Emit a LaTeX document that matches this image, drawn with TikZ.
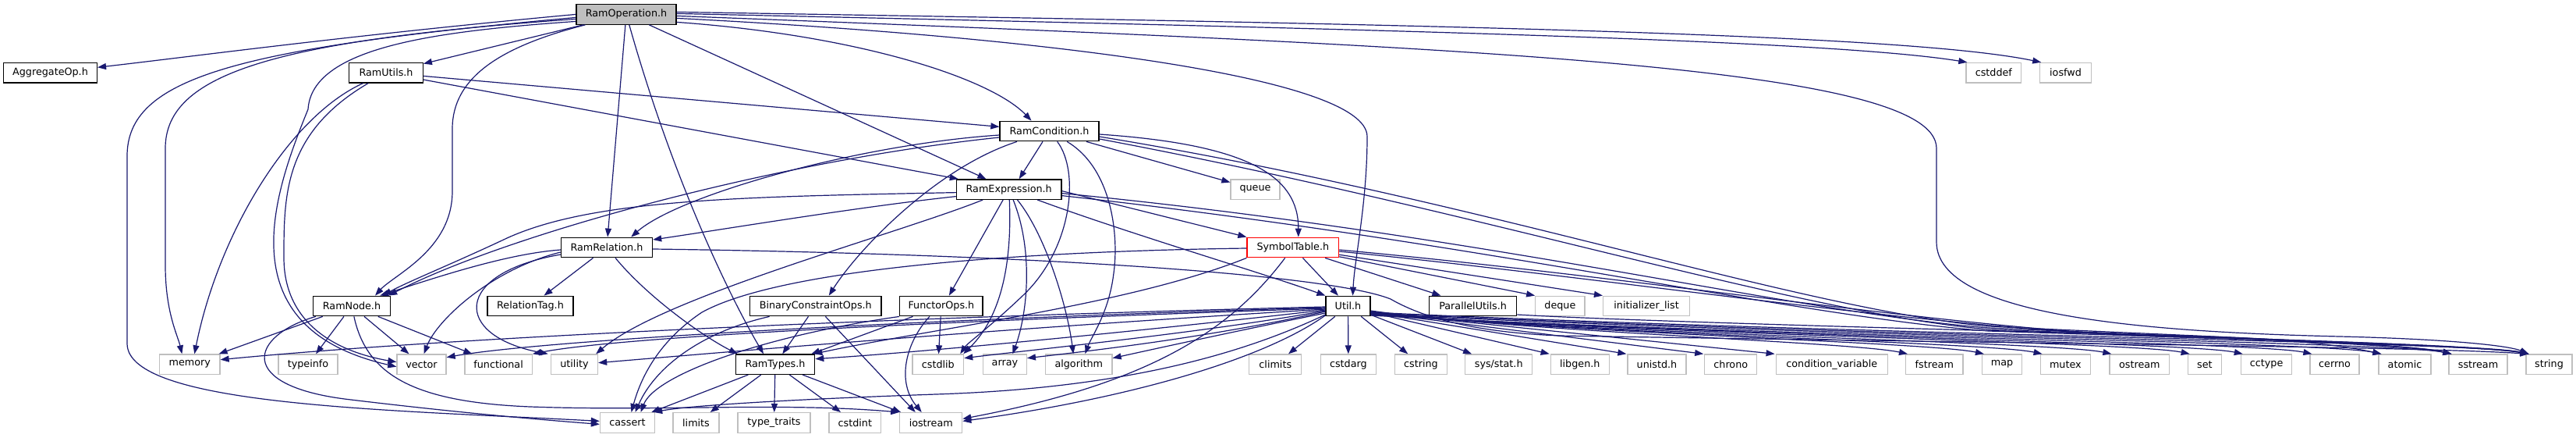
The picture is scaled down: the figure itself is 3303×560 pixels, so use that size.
\documentclass[tikz,border=0pt]{standalone}
\usepackage{fontspec}
\setmainfont{DejaVu Sans}
\usetikzlibrary{arrows.meta}
\definecolor{edgec}{HTML}{191970}
\definecolor{gline}{HTML}{BFBFBF}
\newcommand{\nodefont}{\fontsize{12.75pt}{15pt}\selectfont}
\tikzset{
  nb/.style={draw=black, line width=1.3pt, fill=white, minimum height=25.5pt, inner sep=0pt, font=\nodefont},
  ng/.style={nb, draw=gline},
  e/.style={draw=edgec, line width=1.2pt, -{Triangle[length=11pt,width=8pt]}},
}
\begin{document}
\begin{tikzpicture}[x=1pt,y=-1pt]
\useasboundingbox[fill=white] (0,0) rectangle (3303,560);
% row 0
\node[nb, fill=gline, minimum width=128pt] (ro) at (803,18.4) {RamOperation.h};
% row 1
\node[nb, minimum width=119.8pt] (agg) at (64.5,93.2) {AggregateOp.h};
\node[nb, minimum width=94.5pt] (ru) at (495.05,93.2) {RamUtils.h};
\node[ng, minimum width=70.7pt] (cdf) at (2556.35,93.2) {cstddef};
\node[ng, minimum width=65.5pt] (iof) at (2648.55,93.2) {iosfwd};
% row 2
\node[nb, minimum width=127pt] (rc) at (1345.5,168) {RamCondition.h};
% row 3
\node[nb, minimum width=134.6pt] (re) at (1293.7,242.6) {RamExpression.h};
\node[ng, minimum width=63pt] (que) at (1609.5,242.6) {queue};
% row 4
\node[nb, minimum width=117.1pt] (rr) at (778,317) {RamRelation.h};
\node[nb, draw=red, minimum width=117.6pt] (st) at (1657.8,317) {SymbolTable.h};
% row 5
\node[nb, minimum width=99.1pt] (rn) at (451,392) {RamNode.h};
\node[nb, minimum width=110pt] (rtag) at (680,392) {RelationTag.h};
\node[nb, minimum width=168.4pt] (bc) at (1045.8,392) {BinaryConstraintOps.h};
\node[nb, minimum width=106.2pt] (fo) at (1206.9,392) {FunctorOps.h};
\node[nb, minimum width=57pt] (nut) at (1728.5,392) {Util.h};
\node[nb, minimum width=112.2pt] (pu) at (1888.6,392) {ParallelUtils.h};
\node[ng, minimum width=63.2pt] (deq) at (2000.4,392) {deque};
\node[ng, minimum width=111pt] (ini) at (2111.1,392) {initializer\_list};
% row 6
\node[ng, minimum width=77.3pt] (nmem) at (243.35,466.7) {memory};
\node[ng, minimum width=76pt] (ntinfo) at (395,466.7) {typeinfo};
\node[ng, minimum width=63pt] (nvec) at (540.5,466.7) {vector};
\node[ng, minimum width=86.4pt] (nfunc) at (639.1,466.7) {functional};
\node[ng, minimum width=60.1pt] (nuti) at (736.45,466.7) {utility};
\node[nb, minimum width=101.4pt] (nrt) at (994,466.7) {RamTypes.h};
\node[ng, minimum width=65.6pt] (ncsl) at (1202.8,466.7) {cstdlib};
\node[ng, minimum width=55.8pt] (narr) at (1288.4,466.7) {array};
\node[ng, minimum width=85.5pt] (nalg) at (1383.25,466.7) {algorithm};
\node[ng, minimum width=67pt] (nclim) at (1635.3,466.7) {climits};
\node[ng, minimum width=71.2pt] (ncdarg) at (1728.9,466.7) {cstdarg};
\node[ng, minimum width=66.9pt] (ncstr) at (1822,466.7) {cstring};
\node[ng, minimum width=85.8pt] (nsstat) at (1921.7,466.7) {sys/stat.h};
\node[ng, minimum width=75pt] (nlgen) at (2025.8,466.7) {libgen.h};
\node[ng, minimum width=75pt] (nunis) at (2124.5,466.7) {unistd.h};
\node[ng, minimum width=66.9pt] (nchro) at (2219.25,466.7) {chrono};
\node[ng, minimum width=143.1pt] (ncvar) at (2348.75,466.7) {condition\_variable};
\node[ng, minimum width=73.4pt] (nfst) at (2480.3,466.7) {fstream};
\node[ng, minimum width=50.9pt] (nmap) at (2567,466.7) {map};
\node[ng, minimum width=64.3pt] (nmtx) at (2648.35,466.7) {mutex};
\node[ng, minimum width=76.6pt] (nost) at (2743.3,466.7) {ostream};
\node[ng, minimum width=43.2pt] (nset) at (2826.9,466.7) {set};
\node[ng, minimum width=65.4pt] (ncct) at (2906.1,466.7) {cctype};
\node[ng, minimum width=63pt] (nerr) at (2993.5,466.7) {cerrno};
\node[ng, minimum width=67pt] (natm) at (3083.5,466.7) {atomic};
\node[ng, minimum width=75pt] (nsst) at (3177.5,466.7) {sstream};
\node[ng, minimum width=59pt] (nstr) at (3268.5,466.7) {string};
% row 7
\node[ng, minimum width=70.1pt] (ncas) at (804.5,541.4) {cassert};
\node[ng, minimum width=59pt] (nlim) at (892.5,541.4) {limits};
\node[ng, minimum width=93pt] (ntt) at (992.5,541.4) {type\_traits};
\node[ng, minimum width=66.7pt] (ncint) at (1096.35,541.4) {cstdint};
\node[ng, minimum width=79.9pt] (nios) at (1193.75,541.4) {iostream};

% ---------- RamOperation.h
\draw[e] (ro.west) .. controls (450,45) and (250,72) .. (agg);
\draw[e] ([yshift=-4pt]ro.west) .. controls (300,62) and (163,100) .. (163,200) -- (163,440) .. controls (163,520) and (500,525) .. ([yshift=2pt]ncas.west);
\draw[e] ([yshift=-6pt]ro.west) .. controls (350,52) and (212,95) .. (212,190) -- (212,340) .. controls (212,400) and (228,430) .. ([xshift=-10pt]nmem.north);
\draw[e] ([yshift=-9pt]ro.west) .. controls (560,40) and (400,60) .. (395,140) .. controls (350,250) and (290,420) .. ([yshift=-3pt]nvec.west);
\draw[e] (ro) -- (ru);
\draw[e] (ro) .. controls (640,60) and (580,100) .. (580,165) -- (580,245) .. controls (580,320) and (505,352) .. ([xshift=30pt]rn.north);
\draw[e] (ro) -- (rr);
\draw[e] (ro) .. controls (860,220) and (930,370) .. ([xshift=-15pt]nrt.north);
\draw[e] (ro) -- (re);
\draw[e] ([yshift=-10pt]ro.east) .. controls (1100,45) and (1270,100) .. ([xshift=-23pt]rc.north);
\draw[e] ([yshift=-5pt]ro.east) .. controls (1350,48) and (1753,100) .. (1753,175) .. controls (1753,260) and (1737,330) .. ([xshift=6pt]nut.north);
\draw[e] ([yshift=-2pt]ro.east) .. controls (1900,60) and (2483,85) .. (2483,190) -- (2483,310) .. controls (2483,405) and (2750,425) .. (3000,431) .. controls (3130,434) and (3215,442) .. ([xshift=4pt]nstr.north west);
\draw[e] ([yshift=1pt]ro.east) .. controls (1800,38) and (2350,52) .. ([xshift=2pt]cdf.north west);
\draw[e] ([yshift=3pt]ro.east) .. controls (1900,32) and (2450,45) .. ([xshift=2pt]iof.north west);

% ---------- RamUtils.h
\draw[e] (ru) .. controls (370,150) and (280,300) .. ([xshift=6pt]nmem.north);
\draw[e] (ru) .. controls (364,170) and (364,250) .. (364,330) .. controls (364,420) and (440,452) .. ([yshift=3pt]nvec.west);
\draw[e] (ru) -- (rc);
\draw[e] (ru) -- ([xshift=3pt]re.north west);

% ---------- RamCondition.h
\draw[e] (rc) -- ([xshift=13pt]re.north);
\draw[e] (rc) .. controls (1200,215) and (1100,320) .. ([xshift=17pt]bc.north);
\draw[e] ([yshift=-5pt]rc.west) .. controls (1100,185) and (870,250) .. ([xshift=-28pt]rr.north east);
\draw[e] ([yshift=-8pt]rc.west) .. controls (1000,205) and (650,300) .. ([xshift=-3pt]rn.north east);
\draw[e] (rc) .. controls (1385,220) and (1375,320) .. (1310,380) .. controls (1270,418) and (1240,440) .. ([xshift=-5pt]ncsl.north east);
\draw[e] (rc) .. controls (1425,215) and (1435,300) .. (1428,350) .. controls (1422,400) and (1400,430) .. ([xshift=8pt]nalg.north);
\draw[e] (rc) -- (que);
\draw[e] ([yshift=-4pt]rc.east) .. controls (1600,185) and (1665,225) .. ([xshift=7pt]st.north);
\draw[e] ([yshift=-7pt]rc.east) .. controls (1900,255) and (2300,395) .. (2550,418) .. controls (2800,430) and (3090,440) .. ([xshift=4pt]nsst.north west);
\draw[e] ([yshift=-10pt]rc.east) .. controls (1900,270) and (2300,400) .. (2550,422) .. controls (2850,433) and (3190,442) .. ([xshift=4pt]nstr.north west);

% ---------- RamExpression.h
\draw[e] (re) -- ([xshift=10pt]fo.north);
\draw[e] (re) .. controls (1297,320) and (1290,400) .. ([xshift=-1pt]ncsl.north east);
\draw[e] (re) .. controls (1325,320) and (1318,400) .. ([xshift=10pt]narr.north);
\draw[e] (re) .. controls (1340,300) and (1368,390) .. ([xshift=-7pt]nalg.north);
\draw[e] (re) .. controls (1450,300) and (1620,350) .. (nut.north west);
\draw[e] ([yshift=-2pt]re.east) -- (st.north west);
\draw[e] ([yshift=-4pt]re.west) .. controls (950,252) and (760,255) .. (650,305) .. controls (580,338) and (520,362) .. ([xshift=-10pt]rn.north east);
\draw[e] ([yshift=-9pt]re.west) .. controls (1100,265) and (920,295) .. ([yshift=10pt]rr.east);
\draw[e] (re) .. controls (1150,300) and (850,380) .. ([xshift=-3pt]nuti.north east);
\draw[e] ([yshift=-5pt]re.east) .. controls (1900,300) and (2300,400) .. (2550,420) .. controls (2800,431) and (3090,440) .. ([xshift=4pt]nsst.north west);
\draw[e] ([yshift=-8pt]re.east) .. controls (1900,310) and (2300,405) .. (2550,424) .. controls (2850,434) and (3190,443) .. ([xshift=4pt]nstr.north west);

% ---------- RamRelation.h
\draw[e] ([yshift=-3pt]rr.west) .. controls (650,325) and (560,355) .. ([xshift=-14pt]rn.north east);
\draw[e] (rr) -- (rtag);
\draw[e] (rr) .. controls (830,380) and (900,430) .. ([xshift=3pt]nrt.north west);
\draw[e] ([yshift=-6pt]rr.west) .. controls (630,345) and (560,410) .. ([xshift=3pt]nvec.north);
\draw[e] ([yshift=-9pt]rr.west) .. controls (580,350) and (580,430) .. ([xshift=-3pt]nuti.north west);
\draw[e] ([yshift=-2pt]rr.east) .. controls (1300,325) and (1700,350) .. (1783,383) .. controls (1830,410) and (1900,426) .. (2000,430) .. controls (2600,440) and (3100,444) .. ([xshift=4pt]nstr.north west);

% ---------- RamNode.h
\draw[e] (rn) -- (nmem);
\draw[e] (rn) -- (ntinfo);
\draw[e] (rn) -- (nvec);
\draw[e] (rn) -- (nfunc);
\draw[e] (rn) .. controls (320,430) and (300,495) .. (450,512) .. controls (600,530) and (700,538) .. ([yshift=-2pt]ncas.west);
\draw[e] (rn) .. controls (470,480) and (530,515) .. (680,521) .. controls (850,527) and (1000,515) .. (nios.north west);

% ---------- RamTypes.h
\draw[e] (nrt) -- ([xshift=-5pt]ncas.north east);
\draw[e] (nrt) -- (nlim);
\draw[e] (nrt) -- (ntt);
\draw[e] (nrt) -- (ncint);
\draw[e] (nrt) -- ([xshift=2pt]nios.north west);

% ---------- BinaryConstraintOps.h
\draw[e] (bc) -- (nrt);
\draw[e] (bc) .. controls (900,425) and (840,470) .. ([xshift=10pt]ncas.north);
\draw[e] (bc) -- ([xshift=-20pt]nios.north);

% ---------- FunctorOps.h
\draw[e] (fo) -- ([xshift=-5pt]nrt.north east);
\draw[e] (fo.south west) .. controls (980,430) and (840,480) .. ([xshift=17pt]ncas.north);
\draw[e] (fo) -- (ncsl);
\draw[e] ([xshift=-15pt]fo.south) .. controls (1160,440) and (1150,490) .. ([xshift=-12pt]nios.north);

% ---------- SymbolTable.h
\draw[e] (st) -- (nut);
\draw[e] (st) -- (pu);
\draw[e] (st) -- (deq.north west);
\draw[e] (st) -- (ini.north west);
\draw[e] (st.south west) .. controls (1450,390) and (1200,420) .. ([xshift=-2pt]nrt.north east);
\draw[e] ([yshift=-1pt]st.west) .. controls (1300,322) and (1000,345) .. (900,400) .. controls (840,440) and (820,490) .. ([xshift=5pt]ncas.north);
\draw[e] (st) .. controls (1580,420) and (1480,490) .. ([yshift=5pt]nios.east);
\draw[e] ([yshift=-5pt]st.east) .. controls (2100,360) and (2500,425) .. (2800,432) .. controls (3050,438) and (3200,446) .. ([xshift=4pt]nstr.north west);
\draw[e] ([yshift=-3pt]st.east) .. controls (2100,355) and (2500,420) .. (2750,430) .. controls (2950,436) and (3100,444) .. ([xshift=4pt]nsst.north west);

% ---------- ParallelUtils.h
\draw[e] ([yshift=-11pt]pu.east) .. controls (2100,412) and (2600,425) .. (2800,430) .. controls (2950,434) and (3010,444) .. ([xshift=4pt]natm.north west);

% ---------- Util.h (left)
\draw[e] ([yshift=-1pt]nut.west) .. controls (1200,405) and (600,430) .. ([yshift=6pt]nmem.east);
\draw[e] ([yshift=-2pt]nut.west) .. controls (1200,408) and (700,435) .. ([yshift=9pt]nvec.east);
\draw[e] ([yshift=-3pt]nut.west) .. controls (1250,410) and (800,430) .. (nfunc.north east);
\draw[e] ([yshift=-4pt]nut.west) .. controls (1300,420) and (1000,445) .. ([yshift=2pt]nuti.east);
\draw[e] ([yshift=-5pt]nut.west) .. controls (1500,420) and (1200,450) .. ([yshift=7pt]nrt.east);
\draw[e] ([yshift=-6pt]nut.west) .. controls (1550,425) and (1350,445) .. ([yshift=8pt]ncsl.east);
\draw[e] ([yshift=-7pt]nut.west) .. controls (1560,430) and (1420,447) .. ([yshift=8pt]narr.east);
\draw[e] ([yshift=-9pt]nut.west) .. controls (1580,425) and (1480,447) .. ([yshift=8pt]nalg.east);
\draw[e] ([yshift=-11pt]nut.west) .. controls (1600,450) and (1450,497) .. (1200,505) .. controls (1000,512) and (880,520) .. ([xshift=-2pt]ncas.north east);
\draw[e] ([yshift=-12pt]nut.west) .. controls (1620,460) and (1450,510) .. ([yshift=2pt]nios.east);
% Util.h (below)
\draw[e] (nut) -- (nclim);
\draw[e] (nut) -- (ncdarg);
\draw[e] (nut) -- (ncstr);
\draw[e] (nut) -- (nsstat);
\draw[e] ([yshift=-8pt]nut.east) -- ([xshift=-1pt]nlgen.north west);
\draw[e] ([yshift=-8pt]nut.east) -- ([xshift=-1pt]nunis.north west);
\draw[e] ([yshift=-8pt]nut.east) -- ([xshift=-1pt]nchro.north west);
\draw[e] ([yshift=-8pt]nut.east) -- ([xshift=-1pt]ncvar.north west);
% Util.h (right bundle)
\draw[e] ([yshift=-6pt]nut.east) .. controls (1950,425) and (2375,438) .. ([xshift=3pt]nfst.north west);
\draw[e] ([yshift=-7pt]nut.east) .. controls (1980,426) and (2472,438) .. ([xshift=3pt]nmap.north west);
\draw[e] ([yshift=-8pt]nut.east) .. controls (2000,427) and (2546,438) .. ([xshift=3pt]nmtx.north west);
\draw[e] ([yshift=-9pt]nut.east) .. controls (2050,428) and (2635,438) .. ([xshift=3pt]nost.north west);
\draw[e] ([yshift=-10pt]nut.east) .. controls (2100,428) and (2735,438) .. ([xshift=3pt]nset.north west);
\draw[e] ([yshift=-11pt]nut.east) .. controls (2150,428) and (2803,438) .. ([xshift=3pt]ncct.north west);
\draw[e] ([yshift=-12pt]nut.east) .. controls (2200,428) and (2892,438) .. ([xshift=3pt]nerr.north west);
\draw[e] ([yshift=-10pt]nut.east) .. controls (2250,428) and (2980,438) .. ([xshift=4pt]natm.north west);
\draw[e] ([yshift=-9pt]nut.east) .. controls (2300,428) and (3070,438) .. ([xshift=4pt]nsst.north west);
\draw[e] ([yshift=-8pt]nut.east) .. controls (2350,428) and (3169,438) .. ([xshift=4pt]nstr.north west);
\end{tikzpicture}
\end{document}
